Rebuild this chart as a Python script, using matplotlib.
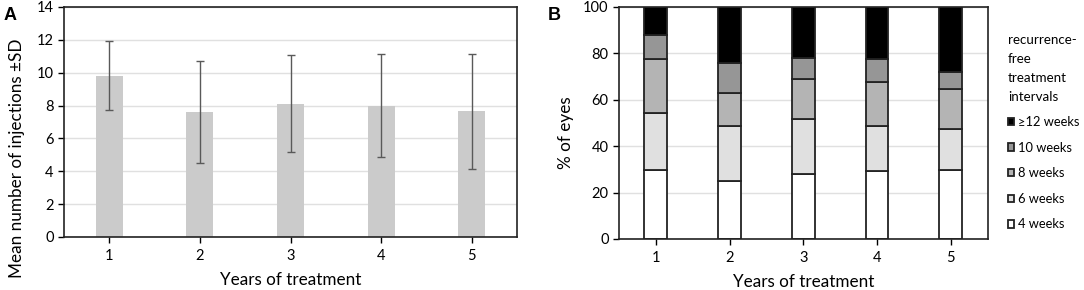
import matplotlib.pyplot as plt
import numpy as np

plt.rcParams['font.family'] = ['Lato', 'DejaVu Sans']

years = [1, 2, 3, 4, 5]

# panel A: mean injections per year and SD
mean_inj = [9.8, 7.6, 8.1, 8.0, 7.65]
sd_inj = [2.1, 3.1, 2.95, 3.15, 3.5]

# panel B: % of eyes by recurrence-free interval (bottom to top)
interval_labels = ['4 weeks', '6 weeks', '8 weeks', '10 weeks', '\u226512 weeks']
pct_4wk = [29.9, 24.8, 28.1, 29.1, 29.6]
pct_6wk = [24.5, 23.8, 23.4, 19.5, 17.7]
pct_8wk = [23.1, 14.2, 17.3, 19.2, 17.2]
pct_10wk = [10.4, 13.2, 9.4, 9.7, 7.4]
pct_12wk = [12.1, 24.0, 21.8, 22.5, 28.1]
interval_colors = ['#ffffff', '#e0e0e0', '#b4b4b4', '#969696', '#000000']

fig = plt.figure(figsize=(10.84, 2.9), dpi=100)


def style_axes(ax):
    ax.set_xlim(0.5, 5.5)
    ax.set_xticks(years)
    ax.yaxis.grid(True, color='#e0e0e0', lw=1, zorder=0)
    ax.tick_params(labelsize=10.5, length=4, width=1)
    ax.tick_params(axis='x', pad=5)
    for s in ax.spines.values():
        s.set_linewidth(1.2)
        s.set_color('#222222')


# ---- Panel A ----
axA = fig.add_axes([0.059, 0.183, 0.418, 0.793])
axA.bar(years, mean_inj, width=0.3, color='#cbcbcb', zorder=2)
axA.errorbar(years, mean_inj, yerr=sd_inj, fmt='none', ecolor='#595959',
             elinewidth=1, capsize=3, capthick=1, zorder=3)
axA.set_ylim(0, 14)
axA.set_yticks(range(0, 15, 2))
style_axes(axA)
axA.set_xlabel('Years of treatment', fontsize=12.3, labelpad=6.5)
axA.set_ylabel('Mean number of injections \u00b1SD', fontsize=12.3)
axA.yaxis.set_label_coords(-0.086, 0.343)

# ---- Panel B ----
axB = fig.add_axes([0.571, 0.176, 0.340, 0.800])
series = [pct_4wk, pct_6wk, pct_8wk, pct_10wk, pct_12wk]
bottom = np.zeros(len(years))
handles = []
for vals, col, lab in zip(series, interval_colors, interval_labels):
    h = axB.bar(years, vals, width=0.31, bottom=bottom, color=col,
                edgecolor='#222222', linewidth=1.3, label=lab, zorder=2)
    handles.append(h)
    bottom += np.array(vals)
axB.set_ylim(0, 100)
axB.set_yticks(range(0, 101, 20))
style_axes(axB)
axB.set_xlabel('Years of treatment', fontsize=12.3, labelpad=6.5)
axB.set_ylabel('% of eyes', fontsize=12.3)
axB.yaxis.set_label_coords(-0.122, 0.46)

leg = axB.legend(handles[::-1], interval_labels[::-1],
                 title='recurrence-\nfree\ntreatment\nintervals',
                 loc='upper left', bbox_to_anchor=(1.055, 0.885),
                 frameon=False, fontsize=9.3, title_fontsize=9.6,
                 handlelength=0.5, handleheight=0.5, handletextpad=0.3,
                 labelspacing=1.05, borderaxespad=0, borderpad=0,
                 alignment='left')
leg.get_title().set_linespacing(1.7)

fig.text(0.003, 0.975, 'A', fontsize=13, fontweight='bold',
         family='Liberation Sans', va='top')
fig.text(0.505, 0.975, 'B', fontsize=13, fontweight='bold',
         family='Liberation Sans', va='top')

fig.savefig('out.png', dpi=100)
